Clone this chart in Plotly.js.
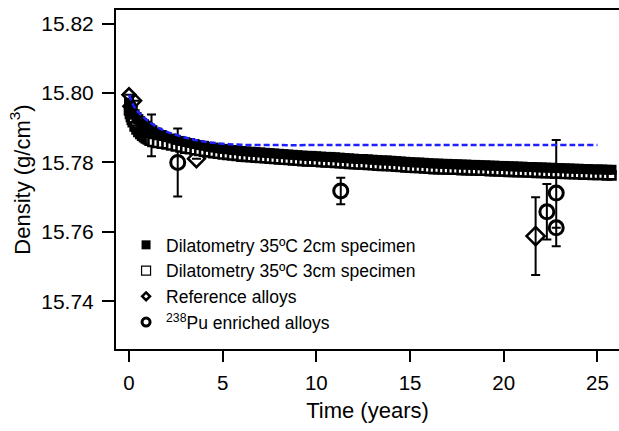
<!DOCTYPE html>
<html>
<head>
<meta charset="utf-8">
<script src="https://cdn.plot.ly/plotly-3.0.1.min.js"></script>
<style>
html,body{margin:0;padding:0;background:#fff;overflow:hidden;}
#chart{width:619px;height:431px;}
</style>
</head>
<body>
<div id="chart"></div>
<script>
// Dilatometry time grid (years)
const dilTime = [0,0.05,0.1,0.15,0.2,0.3,0.4,0.5,0.6,0.7,0.8,0.9,1.0,1.1,1.25,1.5,1.75,
2.0,2.25,2.5,2.75,3,3.25,3.5,3.75,4,4.25,4.5,4.75,5,5.25,5.5,5.75,6,6.25,6.5,6.75,7,7.25,7.5,7.75,
8,8.25,8.5,8.75,9,9.25,9.5,9.75,10,10.25,10.5,10.75,11,11.25,11.5,11.75,12,12.25,12.5,12.75,
13,13.25,13.5,13.75,14,14.25,14.5,14.75,15,15.25,15.5,15.75,16,16.25,16.5,16.75,17,17.25,17.5,17.75,
18,18.25,18.5,18.75,19,19.25,19.5,19.75,20,20.25,20.5,20.75,21,21.25,21.5,21.75,22,22.25,22.5,22.75,
23,23.25,23.5,23.75,24,24.25,24.5,24.75,25,25.25,25.5,25.75];

// Dilatometry 35ºC 2cm specimen (g/cm3)
const dens2cm = [15.7972,15.7966,15.7960,15.7954,15.7948,15.7939,15.7931,15.7925,15.7919,15.7914,15.7910,15.7906,15.7902,15.7898,15.7893,15.7886,15.7879,
15.7873,15.7869,15.7865,15.7862,15.7859,15.7856,15.7853,15.7850,15.7848,15.7845,15.7843,15.7841,15.7839,15.7838,15.7836,15.7835,15.7833,15.7832,15.7831,15.7830,15.7829,15.7828,15.7827,15.7826,
15.7825,15.7824,15.7823,15.7822,15.7821,15.7820,15.7819,15.7819,15.7818,15.7817,15.7816,15.7816,15.7815,15.7814,15.7813,15.7812,15.7811,15.7810,15.7810,15.7809,
15.7808,15.7807,15.7806,15.7806,15.7805,15.7804,15.7803,15.7802,15.7801,15.7800,15.7800,15.7799,15.7798,15.7797,15.7797,15.7796,15.7796,15.7795,15.7795,15.7794,
15.7794,15.7793,15.7793,15.7792,15.7792,15.7791,15.7791,15.7790,15.7790,15.7789,15.7789,15.7788,15.7788,15.7787,15.7787,15.7786,15.7786,15.7785,15.7785,15.7784,
15.7784,15.7783,15.7783,15.7782,15.7782,15.7781,15.7781,15.7780,15.7780,15.7780,15.7779,15.7779];

// Dilatometry 35ºC 3cm specimen (g/cm3)
const dens3cm = [15.7950,15.7940,15.7931,15.7923,15.7916,15.7904,15.7895,15.7888,15.7882,15.7877,15.7873,15.7869,15.7866,15.7863,15.7859,15.7856,15.7854,
15.7852,15.7849,15.7846,15.7843,15.7840,15.7838,15.7835,15.7833,15.7831,15.7829,15.7827,15.7825,15.7823,15.7822,15.7820,15.7819,15.7817,15.7816,15.7815,15.7814,15.7813,15.7812,15.7811,15.7810,
15.7809,15.7808,15.7807,15.7806,15.7805,15.7804,15.7803,15.7803,15.7802,15.7801,15.7800,15.7800,15.7799,15.7798,15.7797,15.7796,15.7795,15.7794,15.7794,15.7793,
15.7792,15.7791,15.7790,15.7790,15.7789,15.7788,15.7787,15.7786,15.7785,15.7784,15.7784,15.7783,15.7782,15.7781,15.7781,15.7780,15.7780,15.7779,15.7779,15.7778,
15.7778,15.7777,15.7777,15.7776,15.7776,15.7775,15.7775,15.7774,15.7774,15.7773,15.7773,15.7772,15.7772,15.7771,15.7771,15.7770,15.7770,15.7769,15.7769,15.7768,
15.7768,15.7767,15.7767,15.7766,15.7766,15.7765,15.7765,15.7764,15.7764,15.7764,15.7763,15.7763];

// Fit curve (blue dashed)
const fitTime = [0,0.25,0.5,1,1.5,2,3,4,5,6,8,10,15,20,25];
const fitDens = [15.7995,15.7963,15.7945,15.7920,15.7902,15.7889,15.7872,15.7860,15.7854,15.7851,15.7850,15.7850,15.7850,15.7850,15.7850];

// Reference alloys
const refTime = [0.0,0.3,0.05,1.2,3.6,21.7];
const refDens = [15.7995,15.7978,15.7962,15.7878,15.7811,15.7588];
const refErr  = [null,null,null,0.0060,null,0.0112];

// 238Pu enriched alloys
const puTime = [2.6,11.3,22.3,22.8,22.8];
const puDens = [15.7800,15.7718,15.7658,15.7712,15.7612];
const puErr  = [0.0098,0.0038,0.0080,0.0153,null];

const xTicks = [0,5,10,15,20,25];
const yTicks = [15.74,15.76,15.78,15.80,15.82];

const FONT = 'Arial, "Liberation Sans", Helvetica, sans-serif';
const errStyle = {type:'data', visible:true, color:'#000', thickness:2, width:4.5};

const traces = [
  {x: refTime, y: refDens, type:'scatter', mode:'markers', showlegend:false,
   error_y: Object.assign({array: refErr}, errStyle),
   marker:{symbol:'diamond-open', size:[10,10,10,13,13,14], opacity:1, color:'#000', line:{width:2.5, color:'#000'}}},
  {x: puTime, y: puDens, type:'scatter', mode:'markers', showlegend:false,
   error_y: Object.assign({array: puErr}, errStyle),
   marker:{symbol:'circle-open', size:14, opacity:1, color:'#000', line:{width:3, color:'#000'}}},
  {x: dilTime, y: dens3cm, type:'scatter', mode:'markers', showlegend:false,
   marker:{symbol:'square', size:8, color:'#fff', line:{width:2.6, color:'#000'}}},
  {x: dilTime, y: dens2cm, type:'scatter', mode:'markers', showlegend:false,
   marker:{symbol:'square', size:10, color:'#000', line:{width:0}}},
  {x: fitTime, y: fitDens, type:'scatter', mode:'lines', showlegend:false,
   line:{color:'#1f1fff', width:2.5, dash:'6px,3px', shape:'spline'}},
  // legend entries
  {x:[null], y:[null], type:'scatter', mode:'markers', name:'Dilatometry 35ºC 2cm specimen',
   marker:{symbol:'square', size:9, color:'#000'}},
  {x:[null], y:[null], type:'scatter', mode:'markers', name:'Dilatometry 35ºC 3cm specimen',
   marker:{symbol:'square', size:9, color:'#fff', line:{width:1.2, color:'#000'}}},
  {x:[null], y:[null], type:'scatter', mode:'markers', name:'Reference alloys',
   marker:{symbol:'diamond-open', size:6, color:'#000', line:{width:2.5, color:'#000'}}},
  {x:[null], y:[null], type:'scatter', mode:'markers', name:'<sup>238</sup>Pu enriched alloys',
   marker:{symbol:'circle-open', size:8, color:'#000', line:{width:3, color:'#000'}}}
];

const layout = {
  width:619, height:431,
  margin:{l:116, r:0, t:10, b:82},
  paper_bgcolor:'#fff', plot_bgcolor:'#fff',
  font:{family:FONT, color:'#000'},
  showlegend:true,
  legend:{x:0.02, y:0.36, xanchor:'left', yanchor:'top', bgcolor:'rgba(0,0,0,0)',
          font:{size:17.5, family:FONT, color:'#000'}, tracegroupgap:0, itemsizing:'trace'},
  xaxis:{range:[-0.694, 26.15], tickvals:xTicks, ticktext:xTicks.map(String),
         showgrid:false, zeroline:false, showline:true, linecolor:'#000', linewidth:2,
         mirror:true, ticks:'outside', ticklen:11, tickwidth:2, tickcolor:'#000',
         tickfont:{size:20.5, family:FONT}, ticklabelstandoff:3,
         title:{text:'Time (years)', font:{size:22, family:FONT}, standoff:10}},
  yaxis:{range:[15.7263, 15.8239], tickvals:yTicks, ticktext:yTicks.map(v=>v.toFixed(2)),
         showgrid:false, zeroline:false, showline:true, linecolor:'#000', linewidth:2,
         ticks:'outside', ticklen:12, tickwidth:2, tickcolor:'#000',
         tickfont:{size:21, family:FONT}, ticklabelstandoff:4,
         title:{text:'Density (g/cm<sup>3</sup>)', font:{size:22, family:FONT}, standoff:5}}
};

Plotly.newPlot('chart', traces, layout, {staticPlot:true, displayModeBar:false});
</script>
</body>
</html>
